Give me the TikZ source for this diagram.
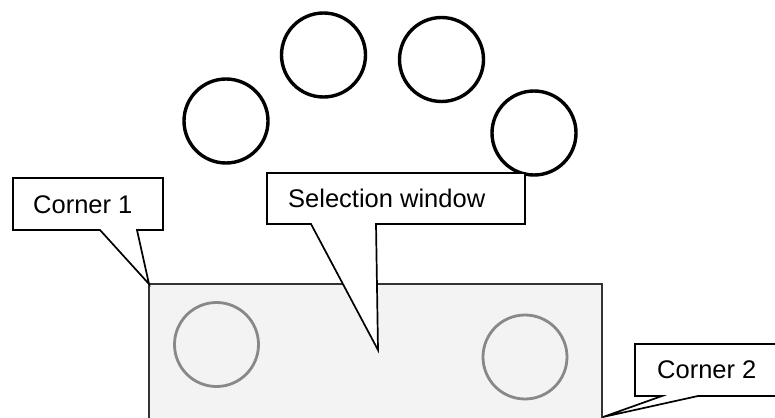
\documentclass[tikz,border=0pt]{standalone}
\usepackage{fontspec}
\setmainfont{Liberation Sans}
\definecolor{winfill}{HTML}{F3F3F3}
\definecolor{winedge}{HTML}{333333}
\definecolor{ghost}{HTML}{888888}
\begin{document}
\begin{tikzpicture}[x=1pt,y=-1pt,
  obj/.style={draw=black,line width=3.4pt},
  inobj/.style={draw=ghost,line width=2.8pt},
  callout/.style={draw=black,fill=white,line width=1.7pt,line join=miter},
  lbl/.style={font=\fontsize{25.5}{30}\selectfont,inner sep=0pt,anchor=west}]
\clip (0,0) rectangle (775,417);
\fill[white] (0,0) rectangle (775,417);
% black objects
\draw[obj] (226,121) circle (42);
\draw[obj] (323.5,55) circle (42);
\draw[obj] (441.5,59.5) circle (42);
\draw[obj] (534,133) circle (42);
% selection window
\draw[fill=winfill,draw=winedge,line width=1.7pt] (149,284) rectangle (602,430);
\draw[inobj] (216.5,344.5) circle (42);
\draw[inobj] (525,357) circle (42);
% callouts
\coordinate (c1tip) at (149,284);
\coordinate (swtip) at (378,350);
\coordinate (c2tip) at (603,417);
\draw[callout] (13,178) -- (163,178) -- (163,230) -- (137,230) -- (c1tip) -- (100,230) -- (13,230) -- cycle;
\draw[callout] (267,173) -- (525,173) -- (525,224) -- (376,224) -- (swtip) -- (311,224) -- (267,224) -- cycle;
\draw[callout] (635,344) -- (790,344) -- (790,396) -- (698,396) -- (c2tip) -- (662,396) -- (635,396) -- cycle;
\node[lbl] (c1) at (33,205) {Corner 1};
\node[lbl] (sw) at (288,198) {Selection window};
\node[lbl] (c2) at (657,370) {Corner 2};
\end{tikzpicture}
\end{document}
